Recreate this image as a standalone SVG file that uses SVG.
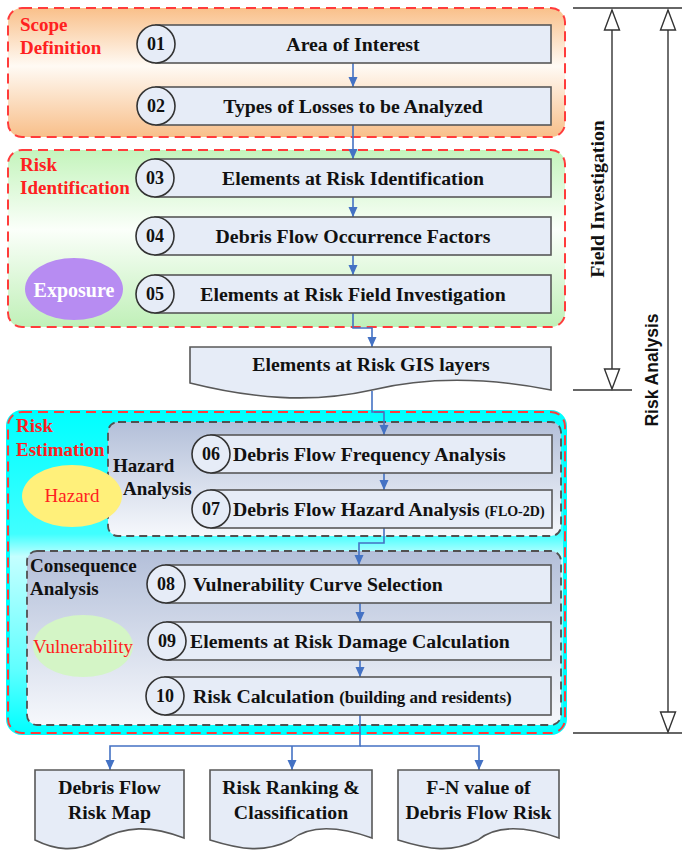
<svg xmlns="http://www.w3.org/2000/svg" width="682" height="850" viewBox="0 0 682 850">
<defs>
<linearGradient id="gScope" x1="0" y1="0" x2="0" y2="1">
<stop offset="0" stop-color="#f9c08a"/><stop offset="0.45" stop-color="#fffaf4"/><stop offset="1" stop-color="#f8bf8a"/>
</linearGradient>
<linearGradient id="gRisk" x1="0" y1="0" x2="0" y2="1">
<stop offset="0" stop-color="#c4f4bc"/><stop offset="0.45" stop-color="#fbfffa"/><stop offset="1" stop-color="#c0f0b8"/>
</linearGradient>
<linearGradient id="gEst" x1="0" y1="0" x2="0" y2="1">
<stop offset="0" stop-color="#00ffff"/><stop offset="0.38" stop-color="#40ffff"/><stop offset="0.45" stop-color="#c4ffff"/><stop offset="0.8" stop-color="#60ffff"/><stop offset="1" stop-color="#00ffff"/>
</linearGradient>
<linearGradient id="gSub" x1="0" y1="0" x2="0" y2="1">
<stop offset="0" stop-color="#b3bfd9"/><stop offset="1" stop-color="#f6f8fc"/>
</linearGradient>
<marker id="ah" markerWidth="10" markerHeight="10" refX="10" refY="5" orient="auto" markerUnits="userSpaceOnUse">
<path d="M0,0.5 L10,5 L0,9.5 z" fill="#4472c4"/>
</marker>
<style>
.stage{stroke:#ff3b3b;stroke-width:2;stroke-dasharray:10 6;}
.sub{stroke:#505050;stroke-width:1.8;stroke-dasharray:8 5;fill:url(#gSub);}
.box{fill:#e6ecf7;stroke:#585858;stroke-width:1.6;}
.num{fill:#e6ecf7;stroke:#333;stroke-width:1.6;}
.t{font-family:"Liberation Serif","Times New Roman",serif;font-weight:bold;font-size:19.8px;fill:#111;}
.n{font-family:"Liberation Serif","Times New Roman",serif;font-weight:bold;font-size:18px;fill:#111;text-anchor:middle;}
.red{font-family:"Liberation Serif","Times New Roman",serif;font-weight:bold;font-size:19px;fill:#ff2020;}
.lab{font-family:"Liberation Serif","Times New Roman",serif;font-weight:bold;font-size:19px;fill:#111;}
.ell{font-family:"Liberation Serif","Times New Roman",serif;font-size:19px;fill:#ff2020;text-anchor:middle;}
.c{text-anchor:middle;}
.conn{fill:none;stroke:#4472c4;stroke-width:1.6;}
.dim{fill:none;stroke:#333;stroke-width:1.4;}
.tri{fill:#fff;stroke:#333;stroke-width:1.4;}
</style>
</defs>

<!-- Stage containers -->
<g id="scope-definition">
<rect x="8" y="8" width="557" height="129" rx="14" fill="url(#gScope)" class="stage"/>
<text class="red" x="20" y="31">Scope</text>
<text class="red" x="20" y="54">Definition</text>
</g>
<g id="risk-identification">
<rect x="8" y="150" width="557" height="177" rx="14" fill="url(#gRisk)" class="stage"/>
<text class="red" x="20" y="171">Risk</text>
<text class="red" x="20" y="194">Identification</text>
</g>
<g id="risk-estimation">
<rect x="8" y="412" width="557" height="321" rx="14" fill="url(#gEst)" stroke="#00ffff" stroke-width="4"/>
<rect x="8" y="412" width="557" height="321" rx="14" fill="none" class="stage"/>
<text class="red" x="16" y="432">Risk</text>
<text class="red" x="16" y="456">Estimation</text>
</g>
<g id="hazard-analysis">
<rect x="108" y="422" width="453" height="114" rx="10" class="sub"/>
<text class="lab" x="113" y="472">Hazard</text>
<text class="lab" x="123" y="495">Analysis</text>
</g>
<g id="consequence-analysis">
<rect x="27" y="551" width="534" height="174" rx="10" class="sub"/>
<text class="lab" x="30" y="572">Consequence</text>
<text class="lab" x="30" y="595">Analysis</text>
</g>

<!-- Ellipse labels -->
<g id="exposure">
<ellipse cx="74" cy="289" rx="49" ry="31" fill="#b78cf2"/>
<text x="74" y="297" class="c" font-family="Liberation Serif, Times New Roman, serif" font-weight="bold" font-size="20" fill="#ffffff">Exposure</text>
</g>
<g id="hazard">
<ellipse cx="72" cy="496" rx="50" ry="31" fill="#fff07a"/>
<text class="ell" x="72" y="502">Hazard</text>
</g>
<g id="vulnerability">
<ellipse cx="83" cy="646" rx="50" ry="31" fill="#d4f5c6"/>
<text class="ell" x="83" y="653">Vulnerability</text>
</g>

<!-- Connectors -->
<g id="connectors">
<path class="conn" d="M353,63 V87" marker-end="url(#ah)"/>
<path class="conn" d="M353,125 V159" marker-end="url(#ah)"/>
<path class="conn" d="M353,197 V217" marker-end="url(#ah)"/>
<path class="conn" d="M353,255 V275" marker-end="url(#ah)"/>
<path class="conn" d="M353,313 V328 H372 V347" marker-end="url(#ah)"/>
<path class="conn" d="M372,391 V412 H384 V435" marker-end="url(#ah)"/>
<path class="conn" d="M384,473 V490" marker-end="url(#ah)"/>
<path class="conn" d="M384,528 V543 H359 V565" marker-end="url(#ah)"/>
<path class="conn" d="M360,603 V622" marker-end="url(#ah)"/>
<path class="conn" d="M360,660 V677" marker-end="url(#ah)"/>
<path class="conn" d="M360,715 V746 H110 V770" marker-end="url(#ah)"/>
<path class="conn" d="M360,746 H479 V770" marker-end="url(#ah)"/>
<path class="conn" d="M292,746 V770" marker-end="url(#ah)"/>
</g>

<!-- Process nodes -->
<g id="n01">
<rect class="box" x="156" y="25" width="395" height="38"/>
<circle class="num" cx="156" cy="44" r="19"/>
<text class="n" x="156" y="50">01</text>
<text class="t c" x="353" y="50.5">Area of Interest</text>
</g>
<g id="n02">
<rect class="box" x="156" y="87" width="395" height="38"/>
<circle class="num" cx="156" cy="106" r="19"/>
<text class="n" x="156" y="112">02</text>
<text class="t c" x="353" y="112.5">Types of Losses to be Analyzed</text>
</g>
<g id="n03">
<rect class="box" x="155" y="159" width="396" height="38"/>
<circle class="num" cx="155" cy="178" r="19"/>
<text class="n" x="155" y="184">03</text>
<text class="t c" x="353" y="184.5">Elements at Risk Identification</text>
</g>
<g id="n04">
<rect class="box" x="155" y="217" width="396" height="38"/>
<circle class="num" cx="155" cy="236" r="19"/>
<text class="n" x="155" y="242">04</text>
<text class="t c" x="353" y="242.5">Debris Flow Occurrence Factors</text>
</g>
<g id="n05">
<rect class="box" x="155" y="275" width="396" height="38"/>
<circle class="num" cx="155" cy="294" r="19"/>
<text class="n" x="155" y="300">05</text>
<text class="t c" x="353" y="300.5">Elements at Risk Field Investigation</text>
</g>
<g id="gis-layers">
<path class="box" d="M190,347 H551 V390 C490,378 430,376 372,390 C310,404 250,398 190,383 Z"/>
<text class="t c" x="371" y="371">Elements at Risk GIS layers</text>
</g>
<g id="n06">
<rect class="box" x="211" y="435" width="341" height="38"/>
<circle class="num" cx="211" cy="454" r="19"/>
<text class="n" x="211" y="460">06</text>
<text class="t" x="233" y="460.5">Debris Flow Frequency Analysis</text>
</g>
<g id="n07">
<rect class="box" x="211" y="490" width="341" height="38"/>
<circle class="num" cx="211" cy="509" r="19"/>
<text class="n" x="211" y="515">07</text>
<text class="t" x="233" y="515.5">Debris Flow Hazard Analysis <tspan font-size="14">(FLO-2D)</tspan></text>
</g>
<g id="n08">
<rect class="box" x="166" y="565" width="385" height="38"/>
<circle class="num" cx="166" cy="584" r="19"/>
<text class="n" x="166" y="590">08</text>
<text class="t" x="193" y="590.5">Vulnerability Curve Selection</text>
</g>
<g id="n09">
<rect class="box" x="167" y="622" width="384" height="38"/>
<circle class="num" cx="167" cy="641" r="19"/>
<text class="n" x="167" y="647">09</text>
<text class="t" x="190" y="647.5">Elements at Risk Damage Calculation</text>
</g>
<g id="n10">
<rect class="box" x="165" y="677" width="386" height="38"/>
<circle class="num" cx="165" cy="696" r="19"/>
<text class="n" x="165" y="702">10</text>
<text class="t" x="193" y="702.5">Risk Calculation <tspan font-size="17">(building and residents)</tspan></text>
</g>

<!-- Output documents -->
<g id="out-risk-map">
<path class="box" d="M35,770 H184 V838 C150,825 125,826 100,840 C75,853 55,850 35,840 Z"/>
<text class="t c" x="109.5" y="794">Debris Flow</text>
<text class="t c" x="109.5" y="819">Risk Map</text>
</g>
<g id="out-ranking">
<path class="box" d="M210,770 H372 V838 C335,825 308,826 291,840 C264,853 242,850 210,840 Z"/>
<text class="t c" x="291" y="794">Risk Ranking &amp;</text>
<text class="t c" x="291" y="819">Classification</text>
</g>
<g id="out-fn">
<path class="box" d="M398,770 H559 V838 C522,825 495,826 478,840 C451,853 430,850 398,840 Z"/>
<text class="t c" x="478.5" y="794">F-N value of</text>
<text class="t c" x="478.5" y="819">Debris Flow Risk</text>
</g>

<!-- Dimension indicators -->
<g id="field-investigation">
<line class="dim" x1="573" y1="8" x2="682" y2="8"/>
<line class="dim" x1="612" y1="10" x2="612" y2="388"/>
<path class="tri" d="M612,10 L619.5,30 L604.5,30 Z"/>
<path class="tri" d="M612,389 L619.5,369 L604.5,369 Z"/>
<line class="dim" x1="573" y1="390" x2="632" y2="390"/>
<text transform="translate(603.5,199) rotate(-90)" class="t c">Field Investigation</text>
</g>
<g id="risk-analysis">
<line class="dim" x1="668" y1="10" x2="668" y2="731"/>
<path class="tri" d="M668,10 L675.5,30 L660.5,30 Z"/>
<path class="tri" d="M668,732 L675.5,712 L660.5,712 Z"/>
<line class="dim" x1="573" y1="733" x2="682" y2="733"/>
<text transform="translate(658,370) rotate(-90)" text-anchor="middle" font-family="Liberation Sans, Arial, sans-serif" font-weight="bold" font-size="17.5" fill="#111">Risk Analysis</text>
</g>
</svg>
